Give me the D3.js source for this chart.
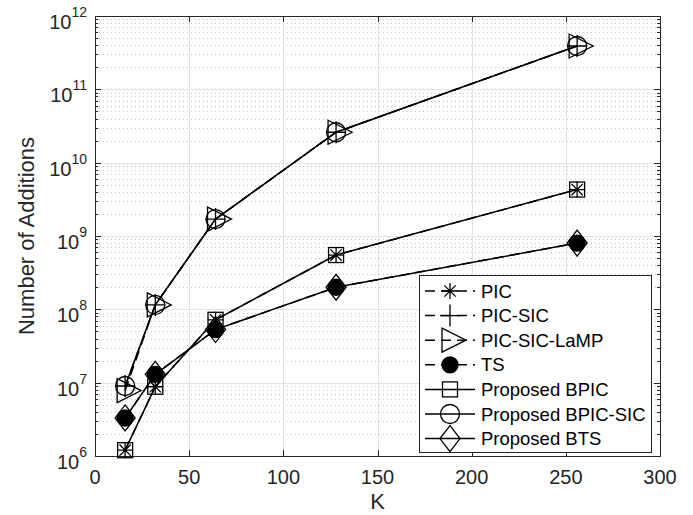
<!DOCTYPE html>
<html>
<head>
<meta charset="utf-8">
<script src="https://cdn.jsdelivr.net/npm/d3@7"></script>
<style>
  body { margin: 0; background: #fff; }
  text { font-family: "Liberation Sans", Arial, Helvetica, sans-serif; fill: #262626; }
</style>
</head>
<body>
<div id="chart"></div>
<script>
// --- data
var K = [16, 32, 64, 128, 256];
var pic        = [1.2e6, 8.8e6, 7.2e7, 5.5e8, 4.3e9];
var picSic     = [9.0e6, 1.15e8, 1.7e9, 2.6e10, 3.9e11];
var picSicLamp = [7.8e6, 1.15e8, 1.7e9, 2.6e10, 3.9e11];
var ts         = [3.3e6, 1.3e7, 5.3e7, 2.0e8, 8.0e8];
var bpic       = [1.2e6, 8.8e6, 7.2e7, 5.5e8, 4.3e9];
var bpicSic    = [9.0e6, 1.15e8, 1.7e9, 2.6e10, 3.9e11];
var bts        = [3.3e6, 1.3e7, 5.3e7, 2.0e8, 8.0e8];

var seriesNames = ['PIC', 'PIC-SIC', 'PIC-SIC-LaMP', 'TS', 'Proposed BPIC', 'Proposed BPIC-SIC', 'Proposed BTS'];
var seriesVals  = [pic, picSic, picSicLamp, ts, bpic, bpicSic, bts];
var seriesMark  = ['asterisk', 'plus', 'triangle', 'dot', 'square', 'circle', 'diamond'];
var seriesDash  = [true, true, true, true, false, false, false];

var xTicks = [0, 50, 100, 150, 200, 250, 300];
var yExps  = [6, 7, 8, 9, 10, 11, 12];

// --- layout
var W = 693, H = 515;
var M = {top: 16, right: 33, bottom: 59, left: 95};

var svg = d3.select('#chart').append('svg')
  .attr('width', W).attr('height', H);

var x = d3.scaleLinear().domain([0, 300]).range([M.left, W - M.right]);
var y = d3.scaleLog().domain([1e6, 1e12]).range([H - M.bottom, M.top]);

var x0 = x.range()[0], x1 = x.range()[1], y0 = y.range()[0], y1 = y.range()[1];

// --- grid
var grid = svg.append('g');
var minors = [];
yExps.slice(0, -1).forEach(function(e) {
  for (var m = 2; m <= 9; m++) minors.push(m * Math.pow(10, e));
});
grid.selectAll('.ymin').data(minors).enter().append('line')
  .attr('x1', x0).attr('x2', x1)
  .attr('y1', function(d) { return Math.round(y(d)) + 0.5; })
  .attr('y2', function(d) { return Math.round(y(d)) + 0.5; })
  .style('stroke', '#c8c8c8').style('stroke-width', 1).style('stroke-dasharray', '1,3');
grid.selectAll('.ymaj').data(yExps.slice(1, -1)).enter().append('line')
  .attr('x1', x0).attr('x2', x1)
  .attr('y1', function(d) { return Math.round(y(Math.pow(10, d))) + 0.5; })
  .attr('y2', function(d) { return Math.round(y(Math.pow(10, d))) + 0.5; })
  .style('stroke', '#e3e3e3').style('stroke-width', 1);
grid.selectAll('.xmaj').data(xTicks.slice(1, -1)).enter().append('line')
  .attr('y1', y0).attr('y2', y1)
  .attr('x1', function(d) { return Math.round(x(d)) + 0.5; })
  .attr('x2', function(d) { return Math.round(x(d)) + 0.5; })
  .style('stroke', '#e3e3e3').style('stroke-width', 1);

// --- axes box and ticks
var ax = svg.append('g').style('stroke', '#262626').style('stroke-width', 1);
ax.append('rect')
  .attr('x', x0 + 0.5).attr('y', y1 + 0.5)
  .attr('width', x1 - x0).attr('height', y0 - y1)
  .style('fill', 'none');
xTicks.forEach(function(t) {
  var px = Math.round(x(t)) + 0.5;
  ax.append('line').attr('x1', px).attr('x2', px).attr('y1', y0).attr('y2', y0 - 6);
  ax.append('line').attr('x1', px).attr('x2', px).attr('y1', y1).attr('y2', y1 + 6);
});
yExps.forEach(function(e) {
  var py = Math.round(y(Math.pow(10, e))) + 0.5;
  ax.append('line').attr('x1', x0).attr('x2', x0 + 6).attr('y1', py).attr('y2', py);
  ax.append('line').attr('x1', x1).attr('x2', x1 - 6).attr('y1', py).attr('y2', py);
});
minors.forEach(function(d) {
  var py = Math.round(y(d)) + 0.5;
  ax.append('line').attr('x1', x0).attr('x2', x0 + 3).attr('y1', py).attr('y2', py);
  ax.append('line').attr('x1', x1).attr('x2', x1 - 3).attr('y1', py).attr('y2', py);
});

// --- tick labels
svg.selectAll('.xlab').data(xTicks).enter().append('text')
  .attr('x', function(d) { return x(d); })
  .attr('y', y0 + 28)
  .attr('text-anchor', 'middle')
  .style('font-size', '20px')
  .text(function(d) { return d; });

var ylab = svg.selectAll('.ylab').data(yExps).enter().append('text')
  .attr('x', x0 - 8)
  .attr('y', function(d) { return y(Math.pow(10, d)) + 13; })
  .attr('text-anchor', 'end')
  .style('font-size', '20px');
ylab.append('tspan').text('10');
ylab.append('tspan').attr('dy', -12).style('font-size', '14px').text(function(d) { return d; });

svg.append('text')
  .attr('x', (x0 + x1) / 2).attr('y', H - 6)
  .attr('text-anchor', 'middle').style('font-size', '22px').text('K');
svg.append('text')
  .attr('transform', 'translate(34,' + ((y0 + y1) / 2) + ') rotate(-90)')
  .attr('text-anchor', 'middle').style('font-size', '22px').text('Number of Additions');

// --- marker shapes
function marker(g, type, cx, cy) {
  var s = g.append('g').attr('transform', 'translate(' + cx + ',' + cy + ')')
    .style('stroke', '#000').style('stroke-width', 1.3).style('fill', 'none');
  if (type === 'asterisk') {
    var r = 8, q = r * Math.SQRT1_2;
    s.append('path').attr('d', 'M' + -r + ',0L' + r + ',0M0,' + -r + 'L0,' + r +
      'M' + -q + ',' + -q + 'L' + q + ',' + q + 'M' + -q + ',' + q + 'L' + q + ',' + -q);
  } else if (type === 'plus') {
    s.append('path').attr('d', 'M-10,0L10,0M0,-11L0,11');
  } else if (type === 'triangle') {
    s.append('path').attr('d', 'M-8,-12L16,0L-8,12Z');
  } else if (type === 'dot') {
    s.append('circle').attr('r', 8).style('fill', '#000');
  } else if (type === 'square') {
    s.append('rect').attr('x', -7.5).attr('y', -7.5).attr('width', 15).attr('height', 15);
  } else if (type === 'circle') {
    s.append('circle').attr('r', 9.5);
  } else if (type === 'diamond') {
    s.append('path').attr('d', 'M0,-13L10,0L0,13L-10,0Z');
  }
}

// --- series
var line = d3.line()
  .x(function(d) { return x(d[0]); })
  .y(function(d) { return y(d[1]); });

var plot = svg.append('g');
seriesVals.forEach(function(vals, i) {
  var pts = K.map(function(k, j) { return [k, vals[j]]; });
  plot.append('path')
    .attr('d', line(pts))
    .style('fill', 'none').style('stroke', '#000').style('stroke-width', 1.5)
    .style('stroke-dasharray', seriesDash[i] ? '10,6' : null);
  pts.forEach(function(p) { marker(plot, seriesMark[i], x(p[0]), y(p[1])); });
});

// --- legend
var L = {x: 419, y: 275, w: 232, h: 177, row: 24.6};
var leg = svg.append('g');
leg.append('rect')
  .attr('x', L.x + 0.5).attr('y', L.y + 0.5).attr('width', L.w).attr('height', L.h)
  .style('fill', '#fff').style('stroke', '#262626').style('stroke-width', 1);
seriesNames.forEach(function(name, i) {
  var cy = L.y + 16 + i * L.row;
  leg.append('line')
    .attr('x1', L.x + 6).attr('x2', L.x + 56).attr('y1', cy).attr('y2', cy)
    .style('stroke', '#000').style('stroke-width', 1.5)
    .style('stroke-dasharray', seriesDash[i] ? '10,6' : null);
  marker(leg, seriesMark[i], L.x + 31, cy);
  leg.append('text')
    .attr('x', L.x + 62).attr('y', cy + 6.5)
    .style('font-size', '18.5px').style('fill', '#000')
    .text(name);
});
</script>
</body>
</html>
